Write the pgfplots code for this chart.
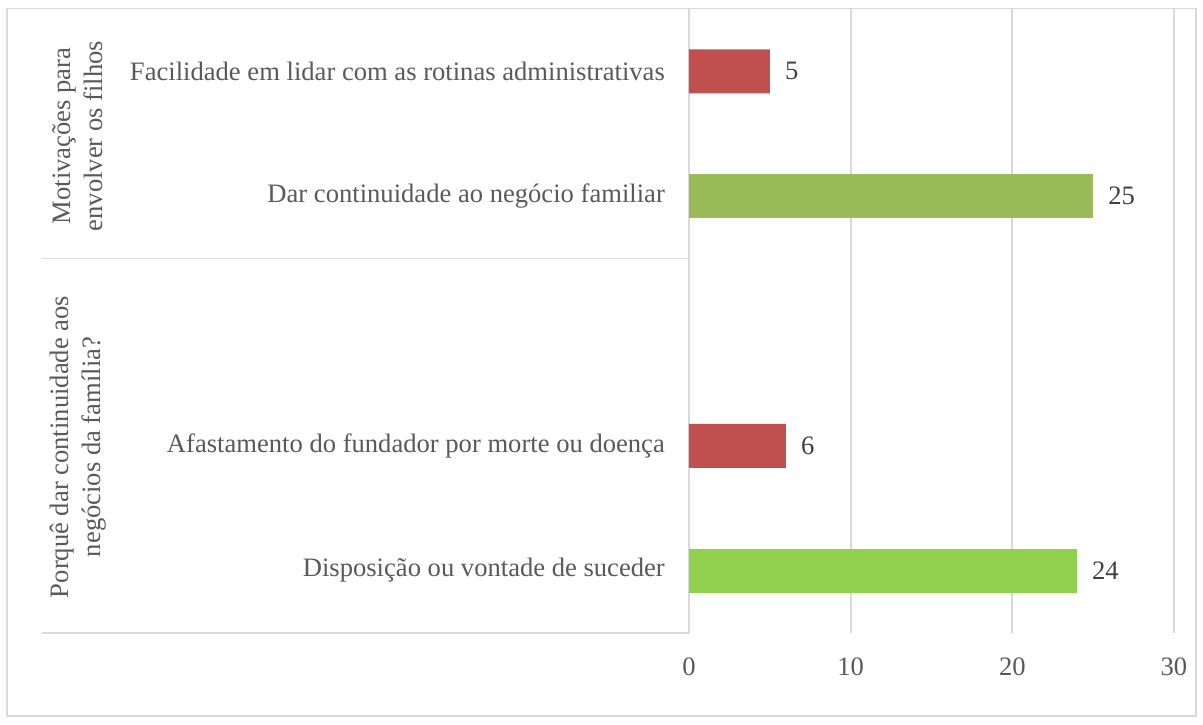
\documentclass[border=0pt]{standalone}
\usepackage{pgfplots}
\pgfplotsset{compat=1.18}
\usepackage{fontspec}
\setmainfont{Liberation Serif}
\definecolor{gridc}{HTML}{D9D9D9}
\definecolor{txt}{HTML}{595959}
\definecolor{valtxt}{HTML}{404040}
\definecolor{redbar}{HTML}{C0504D}
\definecolor{olivebar}{HTML}{9BBB59}
\definecolor{greenbar}{HTML}{92D050}
\newcommand{\chartfont}{\fontsize{26.6}{32}\selectfont}
\begin{document}
\begin{tikzpicture}
\useasboundingbox (0pt,0pt) rectangle (1203pt,724pt);
\draw[gridc, line width=1.8pt] (7pt,8pt) rectangle (1196pt,715.5pt);
\begin{axis}[
 at={(689pt,91pt)}, anchor=south west,
 scale only axis, width=485pt, height=624pt,
 xmin=0, xmax=30, ymin=0, ymax=5,
 xbar, bar shift=0pt, bar width=0.3526,
 axis line style={draw=none},
 major tick length=0pt,
 xtick={0,10,20,30},
 xmajorgrids, grid style={gridc, line width=1.7pt},
 ytick={0.5,1.5,3.5,4.5},
 yticklabels={Disposição ou vontade de suceder, Afastamento do fundador por morte ou doença, Dar continuidade ao negócio familiar, Facilidade em lidar com as rotinas administrativas},
 tick label style={font=\chartfont, text=txt},
 yticklabel style={anchor=east, inner sep=0pt, xshift=-24pt},
 xticklabel style={anchor=north, inner sep=0pt, yshift=-25pt},
 /pgf/number format/assume math mode=true,
 nodes near coords,
 nodes near coords style={anchor=west, inner sep=0pt, xshift=15pt, font=\chartfont, text=valtxt},
 clip=false,
]
\addplot[fill=greenbar, draw=none] coordinates {(24,0.5)};
\addplot[fill=redbar, draw=none] coordinates {(6,1.5) (5,4.5)};
\addplot[fill=olivebar, draw=none] coordinates {(25,3.5)};
\end{axis}
\draw[gridc, line width=1.7pt] (42pt,465.4pt) -- (689pt,465.4pt);
\draw[gridc, line width=1.7pt] (42pt,91pt) -- (689pt,91pt);
\node[rotate=90, align=center, font=\chartfont, text=txt] at (78pt,588pt) {Motivações para\\envolver os filhos};
\node[rotate=90, align=center, font=\chartfont, text=txt] at (78pt,277pt) {Porquê dar continuidade aos\\negócios da família?};
\end{tikzpicture}
\end{document}
